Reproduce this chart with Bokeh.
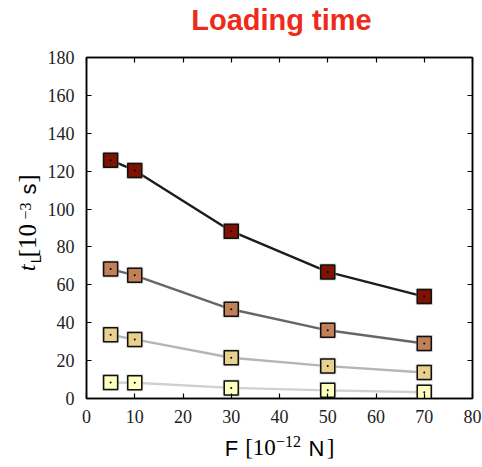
from bokeh.plotting import figure
from bokeh.layouts import column, row
from bokeh.models import Range1d, LinearAxis, FixedTicker
from bokeh.core.properties import value
from bokeh.embed import file_html
from bokeh.resources import INLINE

# Applied force [1e-12 N]
force = [5, 10, 30, 50, 70]

# Loading time [1e-3 s], one series per condition
t_series_1 = [125.8, 120.4, 88.3, 66.8, 53.8]
t_series_2 = [68.3, 65.0, 47.1, 36.0, 29.0]
t_series_3 = [33.6, 31.2, 21.5, 17.1, 13.7]
t_series_4 = [8.4, 8.3, 5.6, 4.3, 3.3]

x_ticks = [0, 10, 20, 30, 40, 50, 60, 70, 80]
y_ticks = [0, 20, 40, 60, 80, 100, 120, 140, 160, 180]

series = [
    (t_series_1, "#7f1200", "#1c1c1c"),
    (t_series_2, "#c28058", "#666666"),
    (t_series_3, "#e9d08e", "#b5b5b5"),
    (t_series_4, "#ffffc0", "#d0d0d0"),
]

serif = "Liberation Serif"
sans = "Liberation Sans"
MID = 0.34            # distance from baseline to text-box middle, in em

W, H = 482, 467
TITLE_H = 45          # strip holding the title
YLAB_W = 44           # strip holding the y-axis label
XLAB_H = 33           # strip holding the x-axis label
MAIN_W = W - YLAB_W
MAIN_H = H - TITLE_H - XLAB_H


def text_strip(width, height):
    """Blank figure whose data coordinates are its own pixels."""
    f = figure(width=width, height=height, output_backend="svg",
               toolbar_location=None, x_range=Range1d(0, width),
               y_range=Range1d(0, height), min_border=0,
               x_axis_location=None, y_axis_location=None)
    f.grid.visible = False
    f.outline_line_color = None
    f.background_fill_color = "white"
    f.border_fill_color = "white"
    return f


def put(f, text, x, y, size, font=serif, style="normal", angle=0.0,
        color="black"):
    # (x, y) is the centre of the text box
    f.text(x=[x], y=[y], text=[text], angle=angle,
           text_font=value(font), text_font_size=value(f"{size}px"),
           text_font_style=value(style), text_align=value("center"),
           text_baseline=value("middle"), text_color=color)


# ---- main chart -----------------------------------------------------------
p = figure(width=MAIN_W, height=MAIN_H, output_backend="svg",
           toolbar_location=None, x_range=Range1d(0, 80),
           y_range=Range1d(0, 180), min_border_left=86 - YLAB_W,
           min_border_right=10, min_border_top=12, min_border_bottom=36,
           x_axis_location=None, y_axis_location=None)
p.grid.visible = False
p.outline_line_color = "black"
p.outline_line_width = 1.5
p.background_fill_color = "white"
p.border_fill_color = "white"


def style_axis(ax, ticks, labels=True):
    ax.ticker = FixedTicker(ticks=ticks)
    ax.major_tick_in = 5
    ax.major_tick_out = 0
    ax.minor_tick_in = 0
    ax.minor_tick_out = 0
    ax.axis_line_color = "black"
    ax.axis_line_width = 1.5
    ax.major_tick_line_color = "black"
    ax.major_tick_line_width = 1.2
    if labels:
        ax.major_label_text_font = serif
        ax.major_label_text_font_size = "18px"
        ax.major_label_text_color = "#222222"
    else:
        ax.major_label_text_font_size = "0px"
        ax.major_label_standoff = 0
        ax.major_label_text_color = None


ax_b = LinearAxis()
style_axis(ax_b, x_ticks)
ax_b.major_label_standoff = 11
p.add_layout(ax_b, "below")

ax_l = LinearAxis()
style_axis(ax_l, y_ticks)
ax_l.major_label_standoff = 12
p.add_layout(ax_l, "left")

ax_t = LinearAxis()
style_axis(ax_t, x_ticks, labels=False)
p.add_layout(ax_t, "above")

ax_r = LinearAxis()
style_axis(ax_r, y_ticks, labels=False)
p.add_layout(ax_r, "right")

for ys, fill, line in series:
    p.line(force, ys, line_color=line, line_width=2.4)
for ys, fill, line in series:
    p.scatter(force, ys, marker="square", size=17, fill_color="#b0b0b0",
              fill_alpha=0.55, line_color=None)
    p.scatter(force, ys, marker="square", size=14, fill_color=fill,
              line_color="#111111", line_width=1.5)
    p.scatter(force, ys, marker="circle", size=2, fill_color="black",
              line_color=None)

# ---- title strip ----------------------------------------------------------
title = text_strip(W, TITLE_H)
put(title, "Loading time", 281, TITLE_H - (29 - MID * 29), 29, font=sans,
    style="bold", color="#ee2a1b")

# ---- y label strip: t_L [10^-3 s] (reads bottom to top) --------------------
ylab = text_strip(YLAB_W, MAIN_H)
rot = 3.14159265 / 2


def yy(py):
    # canvas row -> strip data y
    return MAIN_H - (py - TITLE_H)


def ybase(bx, size):
    # baseline column -> centre column of a rotated text box
    return bx - MID * size


put(ylab, "t", ybase(35, 24), yy(285), 24, style="italic", angle=rot)
put(ylab, "L", ybase(40.5, 15), yy(275), 15, font=sans, angle=rot)
put(ylab, "[10", ybase(35, 25), yy(254), 25, angle=rot)
put(ylab, "\u22123", ybase(30, 16), yy(220), 16, angle=rot)
put(ylab, "s", ybase(35, 22), yy(195), 22, font=sans, angle=rot)
put(ylab, "]", ybase(35, 25), yy(183), 25, angle=rot)

# ---- x label strip: F [10^-12 N] -------------------------------------------
xlab = text_strip(W, XLAB_H)
xtop = H - XLAB_H


def xy(py, size):
    # canvas baseline row -> strip data y of the text-box centre
    return XLAB_H - (py - MID * size - xtop)


put(xlab, "F", 231, xy(455, 22), 22, font=sans)
put(xlab, "[10", 260, xy(455, 23), 23)
put(xlab, "\u221212", 288, xy(446, 16), 16)
put(xlab, "N", 316, xy(455, 22), 22, font=sans)
put(xlab, "]", 330, xy(455, 23), 23)

layout = column(title, row(ylab, p), xlab)
open("out.html", "w").write(file_html(layout, INLINE))
